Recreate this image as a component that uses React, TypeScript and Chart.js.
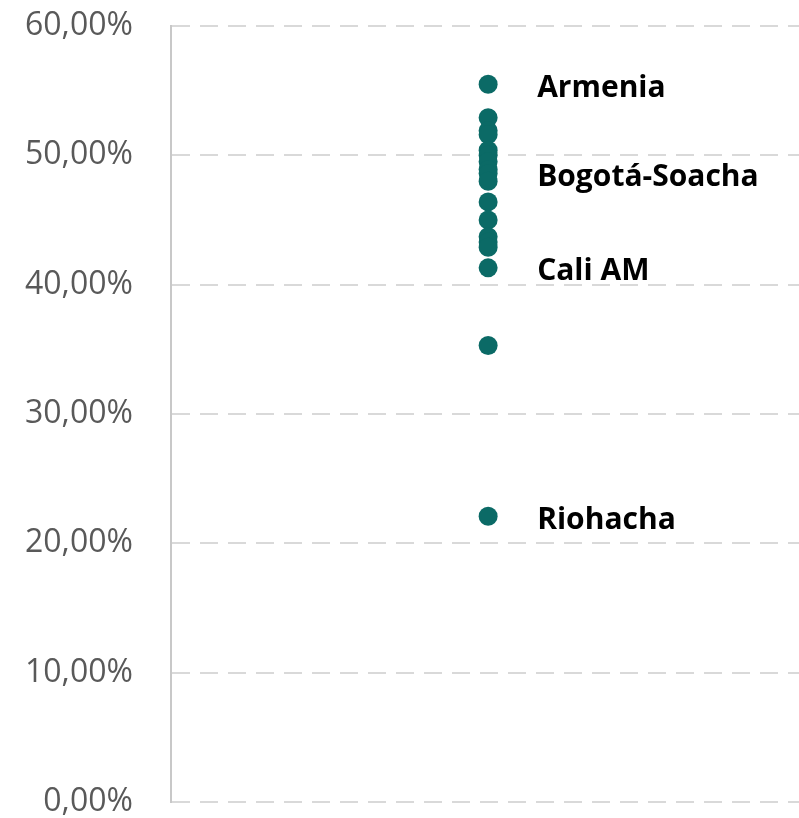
import React, { useEffect, useRef } from "react";
import { Chart, registerables } from "chart.js";

Chart.register(...registerables);

const shares: number[] = [55.5, 52.9, 51.9, 51.6, 50.4, 50.0, 49.5, 48.9, 48.6, 48.0, 46.4, 45.0, 43.7, 43.3, 42.9, 41.3, 35.3, 22.1];
const pointLabels: string[] = ["Armenia", "", "", "", "", "", "", "", "Bogotá-Soacha", "", "", "", "", "", "", "Cali AM", "", "Riohacha"];
const yTicks: number[] = [0, 10, 20, 30, 40, 50, 60];

const labelPlugin = {
  id: "pointLabels",
  afterDatasetsDraw(chart: any) {
    const meta = chart.getDatasetMeta(0);
    const ctx = chart.ctx;
    ctx.save();
    ctx.font = "bold 30px 'Open Sans', sans-serif";
    ctx.fillStyle = "#000000";
    ctx.textAlign = "left";
    ctx.textBaseline = "middle";
    meta.data.forEach((el: any, i: number) => {
      const t = pointLabels[i];
      if (!t) return;
      ctx.fillText(t, el.x + 49, el.y + 4);
    });
    ctx.restore();
  },
};

export default function App() {
  const ref = useRef<HTMLCanvasElement>(null);
  useEffect(() => {
    document.body.style.margin = "0";
    const data = shares.map((v) => ({ x: 1, y: v }));
    const chart = new Chart(ref.current!, {
      type: "scatter",
      data: {
        datasets: [
          {
            data,
            backgroundColor: "#0b6a66",
            borderColor: "#0b6a66",
            pointRadius: 9.5,
            pointHoverRadius: 9.5,
            borderWidth: 0,
          },
        ],
      },
      options: {
        animation: false,
        responsive: false,
        maintainAspectRatio: false,
        layout: { autoPadding: false, padding: { top: 26, bottom: 16, right: 0, left: 25 } },
        plugins: { legend: { display: false }, tooltip: { enabled: false } },
        scales: {
          x: { type: "linear", min: 0, max: 1.98, display: false },
          y: {
            min: 0,
            max: 60,
            afterBuildTicks: (axis: any) => {
              axis.ticks = yTicks.map((v) => ({ value: v }));
            },
            ticks: {
              padding: 0,
              color: "#595959",
              font: { size: 32, family: "'Open Sans', sans-serif", lineHeight: 0.8 },
              callback: (v: any) => Number(v).toFixed(2).replace(".", ",") + "%",
            },
            grid: {
              color: "#d9d9d9",
              lineWidth: 2,
              drawTicks: true,
              tickLength: 38,
              tickColor: "rgba(0,0,0,0)",
            },
            border: { display: true, color: "#c8c8c8", width: 2, dash: [18, 10] },
          },
        },
      },
      plugins: [labelPlugin],
    });
    return () => chart.destroy();
  }, []);
  return <canvas ref={ref} width={799} height={818} style={{ display: "block" }} />;
}
